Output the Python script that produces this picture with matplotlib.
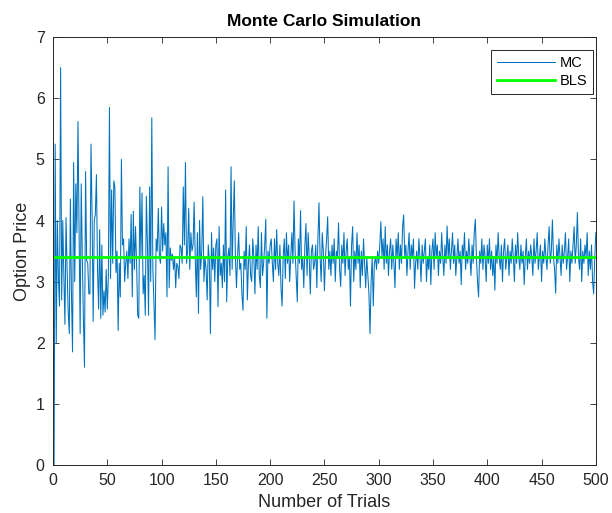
import matplotlib
matplotlib.use("Agg")
import matplotlib.pyplot as plt
import numpy as np

plt.rcParams["font.family"] = ["Liberation Sans", "DejaVu Sans"]

# Monte Carlo estimate per number of trials
mc_price = [
    0.00, 5.25, 2.00, 4.00, 3.05, 2.60, 6.50, 2.70, 4.00, 3.10,
    2.30, 4.05, 3.20, 2.50, 2.15, 4.35, 2.80, 1.85, 4.95, 3.00,
    4.60, 3.80, 5.62, 3.90, 2.15, 4.60, 3.40, 2.40, 1.60, 4.80,
    3.35, 3.30, 2.80, 2.80, 5.25, 4.10, 2.35, 4.00, 4.10, 4.75,
    3.20, 2.55, 3.85, 2.40, 3.60, 2.45, 2.85, 2.50, 3.20, 2.55,
    3.10, 5.85, 3.05, 4.50, 3.30, 4.65, 4.55, 3.15, 3.50, 2.20,
    3.30, 2.75, 5.00, 3.60, 3.70, 3.00, 3.30, 3.50, 3.05, 3.70,
    3.30, 4.10, 2.75, 4.15, 3.20, 3.90, 3.30, 2.45, 2.40, 4.55,
    3.40, 4.45, 2.80, 3.10, 2.45, 4.40, 3.60, 2.45, 4.55, 3.00,
    5.68, 3.20, 2.60, 2.05, 3.70, 3.50, 4.20, 3.40, 3.30, 4.22,
    3.50, 3.95, 3.60, 3.80, 2.75, 4.88, 2.90, 3.55, 3.35, 3.45,
    3.20, 3.40, 2.90, 3.30, 3.25, 3.05, 3.60, 3.55, 3.30, 4.55,
    3.60, 4.95, 3.30, 3.50, 4.20, 3.20, 3.80, 3.50, 3.60, 4.30,
    3.40, 2.75, 3.80, 2.48, 4.00, 3.20, 3.50, 4.39, 3.00, 3.40,
    3.20, 2.70, 3.60, 3.35, 2.15, 3.80, 3.20, 3.55, 3.00, 3.60,
    3.70, 2.59, 3.90, 3.10, 3.30, 2.90, 3.60, 3.00, 4.50, 2.67,
    3.40, 3.55, 3.10, 4.88, 3.20, 4.00, 4.65, 3.40, 2.90, 3.40,
    3.80, 3.20, 3.30, 2.80, 2.53, 3.50, 3.20, 3.90, 2.70, 3.30,
    3.60, 3.10, 3.00, 3.70, 3.40, 2.80, 3.60, 3.20, 3.90, 3.10,
    2.90, 3.80, 3.10, 3.30, 3.60, 4.02, 2.40, 3.50, 3.30, 3.60,
    3.70, 3.30, 3.00, 3.70, 3.20, 3.85, 3.30, 3.10, 3.60, 2.90,
    2.60, 3.40, 3.70, 3.05, 3.80, 3.30, 3.60, 3.00, 3.40, 3.80,
    3.30, 4.32, 3.50, 3.10, 2.67, 3.70, 3.30, 4.16, 3.20, 3.40,
    2.90, 3.60, 3.95, 3.10, 3.80, 3.40, 2.80, 3.50, 3.60, 3.20,
    3.30, 3.60, 2.90, 3.70, 4.29, 3.40, 3.00, 3.80, 3.50, 2.85,
    3.40, 3.70, 4.06, 3.20, 3.50, 3.10, 3.60, 3.30, 3.70, 3.00,
    3.50, 3.40, 3.96, 3.20, 2.92, 3.60, 3.30, 3.80, 3.10, 3.50,
    3.70, 3.20, 3.40, 2.60, 3.60, 3.90, 3.00, 3.50, 3.20, 3.80,
    3.30, 3.60, 2.90, 3.50, 3.10, 3.70, 3.30, 2.90, 3.40, 3.10,
    2.80, 2.15, 3.00, 3.40, 2.60, 3.30, 3.40, 3.20, 3.50, 3.30,
    3.60, 3.98, 3.40, 3.70, 3.20, 3.90, 3.30, 3.60, 3.10, 3.50,
    3.70, 3.20, 3.60, 3.30, 2.90, 3.70, 3.40, 3.80, 3.20, 3.60,
    3.30, 3.90, 4.09, 3.40, 3.60, 3.10, 3.50, 3.80, 3.20, 3.60,
    3.40, 3.70, 2.89, 3.30, 3.50, 3.20, 3.70, 3.40, 3.00, 3.60,
    3.30, 3.50, 3.70, 3.00, 3.40, 3.20, 3.60, 2.95, 3.50, 3.70,
    3.20, 3.80, 3.40, 3.60, 3.10, 3.50, 3.30, 3.80, 3.40, 3.10,
    3.60, 3.30, 3.91, 3.40, 3.70, 3.20, 3.50, 3.80, 3.30, 3.60,
    3.10, 3.40, 3.70, 3.30, 3.50, 2.95, 3.60, 3.40, 3.80, 3.20,
    3.50, 3.30, 3.70, 3.40, 3.10, 3.60, 3.30, 3.80, 4.02, 3.40,
    3.00, 2.75, 3.50, 3.30, 3.70, 3.20, 3.60, 3.40, 3.00, 3.60,
    3.30, 3.70, 3.20, 3.50, 3.10, 3.40, 2.86, 3.60, 3.30, 3.80,
    3.40, 3.20, 3.60, 3.00, 3.50, 3.70, 3.20, 3.40, 3.60, 3.10,
    3.50, 3.30, 3.70, 3.40, 3.00, 3.60, 3.30, 3.80, 3.40, 3.20,
    3.60, 3.30, 3.50, 2.95, 3.40, 3.70, 3.20, 3.50, 3.30, 3.60,
    3.40, 3.10, 3.70, 3.30, 3.50, 3.80, 3.20, 3.40, 3.60, 3.00,
    3.50, 3.30, 3.70, 3.40, 3.20, 3.60, 3.90, 3.30, 3.50, 4.01,
    3.40, 3.20, 2.81, 3.60, 3.30, 3.70, 3.40, 3.10, 3.60, 3.30,
    3.50, 3.80, 3.20, 3.40, 3.70, 3.00, 3.50, 3.30, 3.60, 3.90,
    3.30, 3.60, 4.13, 3.40, 3.20, 3.70, 3.00, 3.50, 3.30, 3.60,
    3.40, 3.80, 3.10, 3.50, 3.20, 3.60, 3.00, 2.80, 3.40, 3.80,
]
trials = np.arange(1, len(mc_price) + 1)
bls_price = 3.40

AX_COLOR = "#262626"

fig = plt.figure(figsize=(6.12, 5.13), dpi=100)
ax = fig.add_axes([0.0866, 0.0936, 0.887, 0.834])

ax.plot(trials, mc_price, color="#0072BD", linewidth=0.75, label="MC")
ax.axhline(bls_price, color="#00FF00", linewidth=2.0, label="BLS")

ax.set_xlim(0, 500)
ax.set_ylim(0, 7)
ax.set_xticks(np.arange(0, 501, 50))
ax.set_yticks(np.arange(0, 8, 1))
ax.tick_params(direction="in", top=True, right=True, length=4, pad=6,
               labelsize=11.5, colors=AX_COLOR, width=0.6)
for spine in ax.spines.values():
    spine.set_color(AX_COLOR)
    spine.set_linewidth(0.7)

ax.set_title("Monte Carlo Simulation", fontsize=12.5, fontweight="bold", color="black", pad=8)
ax.set_xlabel("Number of Trials", fontsize=13, color=AX_COLOR, labelpad=4)
ax.set_ylabel("Option Price", fontsize=13, color=AX_COLOR, labelpad=3)

leg = ax.legend(loc="upper right", bbox_to_anchor=(0.9945, 0.9696), borderaxespad=0,
                fontsize=10.5, fancybox=False, framealpha=1, edgecolor=AX_COLOR,
                handlelength=4.0, handletextpad=0.3, borderpad=0.4, labelspacing=0.3)
leg.get_frame().set_linewidth(0.7)

fig.savefig("out.png", dpi=100)
